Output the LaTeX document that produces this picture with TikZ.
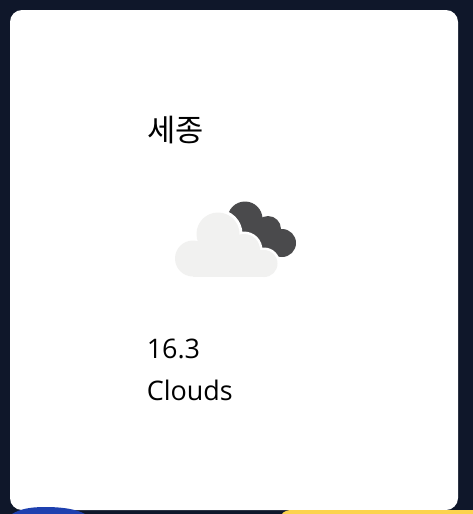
\documentclass[tikz,border=0pt]{standalone}
\usepackage{fontspec}
\setmainfont{Open Sans}
\newfontfamily\cjk{Noto Sans CJK KR}
\definecolor{pagebg}{HTML}{0F172A}
\definecolor{cloudlight}{HTML}{F1F1F0}
\definecolor{clouddark}{HTML}{4A4A4C}
\definecolor{blueshape}{HTML}{1E40AF}
\definecolor{yellowshape}{HTML}{FCD34D}
\tikzset{
  cardtext/.style={anchor=base west,inner sep=0pt,text=black,font=\fontsize{20.2pt}{24pt}\selectfont},
  titletext/.style={anchor=base west,inner sep=0pt,text=black,font=\fontsize{23pt}{26pt}\selectfont},
  darklobe/.style={fill=clouddark,draw=none},
  lightshape/.style={fill=cloudlight,draw=none}
}
\begin{document}
\begin{tikzpicture}[x=0.75pt,y=-0.75pt]
\useasboundingbox (0,0) rectangle (473,514);
\fill[pagebg] (0,0) rectangle (473,514);
\fill[white,rounded corners=9pt] (10,10) rectangle (458,510);
\fill[blueshape] (12,514) .. controls (20,509) and (30,507) .. (45,507) .. controls (62,507) and (76,509) .. (85,514) -- cycle;
\fill[yellowshape] (282,514) .. controls (284,511) and (288,510) .. (292,510) -- (473,510) -- (473,514) -- cycle;
\fill[darklobe] (245,219) circle[radius=17.5];
\fill[darklobe] (268,229) circle[radius=13];
\fill[darklobe] (282,243) circle[radius=14];
\fill[darklobe] (245,225) -- (268,222) -- (290,243) -- (277,256) -- (245,240) -- cycle;
\fill[white] (193,258) circle[radius=20.5];
\fill[white] (218,234) circle[radius=24.5];
\fill[white] (244,250) circle[radius=18.5];
\fill[white] (264,263.5) circle[radius=16];
\fill[lightshape] (193,258.5) circle[radius=18];
\fill[lightshape] (218,234) circle[radius=21.5];
\fill[lightshape] (244,250) circle[radius=16];
\fill[lightshape] (264,263.5) circle[radius=13.5];
\fill[lightshape] (193,250) rectangle (264,277);
\node[titletext] (title) at (147,141.5) {\cjk 세종};
\node[cardtext] (temp) at (146.5,358) {16.3};
\node[cardtext] (cond) at (146.5,400) {Clouds};
\end{tikzpicture}
\end{document}
